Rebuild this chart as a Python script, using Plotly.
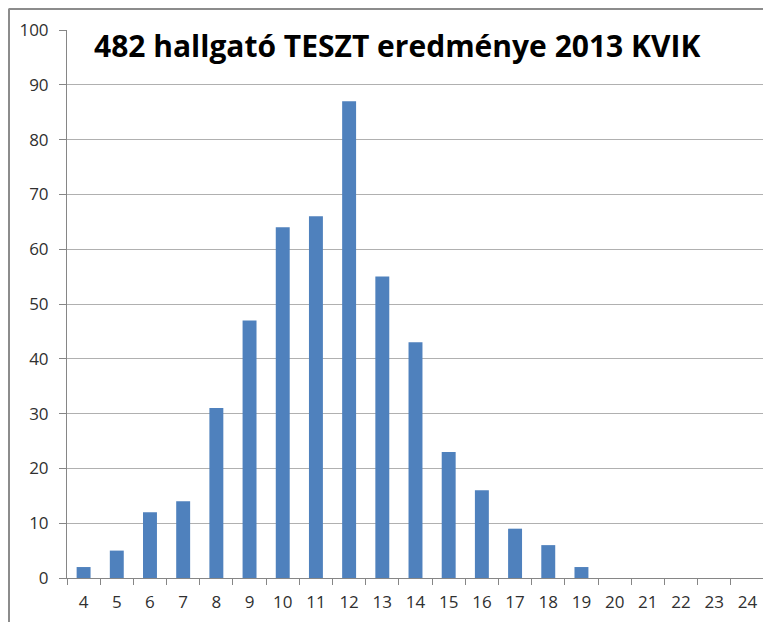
import plotly.graph_objects as go

categories = [str(i) for i in range(4, 25)]
counts = [2, 5, 12, 14, 31, 47, 64, 66, 87, 55, 43, 23, 16, 9, 6, 2, 0, 0, 0, 0, 0]
y_ticks = list(range(0, 101, 10))
title_text = "482 hallgató TESZT eredménye 2013 KVIK"

# page body has an 8px margin; figure coords = window coords - 8
OFF = 8
W, H = 763, 614
L, R, T, B = 67 - OFF, 7, 30 - OFF, 44
pw, ph = W - L - R, H - T - B

fig = go.Figure(go.Bar(x=categories, y=counts, marker=dict(color="#4F81BD", line=dict(width=0)), width=0.42))

def px_x(x):
    return (x - OFF - L) / pw

def px_y(y):
    return 1 - (y - OFF - T) / ph

fig.update_layout(
    width=W, height=H,
    margin=dict(l=L, r=R, t=T, b=B),
    paper_bgcolor="white", plot_bgcolor="white",
    showlegend=False,
    font=dict(family="Open Sans, Arial", size=17, color="#303030"),
    xaxis=dict(type="category", showline=True, linecolor="#868686", linewidth=1,
               ticks="outside", ticklen=6, tickcolor="#868686", tickson="boundaries",
               showgrid=False, ticklabelstandoff=9, automargin=False),
    yaxis=dict(range=[0, 100], tickvals=y_ticks, showline=True, linecolor="#868686",
               linewidth=1, ticks="outside", ticklen=7, tickcolor="#868686",
               gridcolor="#B0B0B0", gridwidth=1, zeroline=False, ticklabelstandoff=7,
               automargin=False),
    shapes=[
        dict(type="line", xref="paper", yref="paper", x0=px_x(8.5), x1=px_x(775),
             y0=px_y(9), y1=px_y(9), line=dict(color="#8C8C8C", width=2)),
        dict(type="line", xref="paper", yref="paper", x0=px_x(9), x1=px_x(9),
             y0=px_y(9), y1=px_y(630), line=dict(color="#8C8C8C", width=2)),
    ],
    annotations=[dict(text="<b>" + title_text + "</b>", xref="paper", yref="paper",
                      x=px_x(397), y=px_y(45), xanchor="center", yanchor="middle",
                      showarrow=False, font=dict(family="Open Sans, Arial", size=30, color="black"))],
)

fig.write_html("out.html")
